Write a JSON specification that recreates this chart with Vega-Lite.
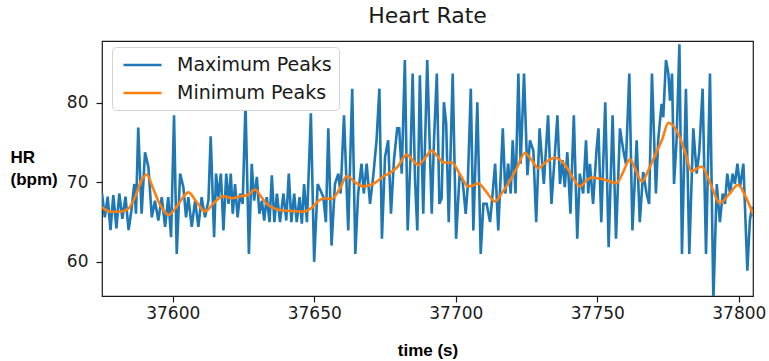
{
  "$schema": "https://vega.github.io/schema/vega-lite/v6.json",
  "width": 651,
  "height": 255,
  "autosize": {"type": "none"},
  "padding": {"left": 102, "top": 41, "right": 16, "bottom": 65},
  "background": "white",
  "title": {"text": "Heart Rate", "font": "DejaVu Sans", "fontSize": 22, "fontWeight": "normal", "color": "#1a1a1a", "anchor": "middle", "baseline": "alphabetic", "offset": 15, "dy": 19},
  "datasets": {
    "maxp": [
      {"t":37575.0,"hr":68.6},{"t":37576.0,"hr":65.6},{"t":37577.0,"hr":68.2},{"t":37578.0,"hr":64.0},{"t":37579.0,"hr":68.4},{"t":37580.1,"hr":64.2},{"t":37581.1,"hr":68.6},{"t":37582.2,"hr":65.4},{"t":37583.3,"hr":68.2},{"t":37584.4,"hr":64.0},{"t":37585.4,"hr":66.5},{"t":37586.4,"hr":69.8},{"t":37587.0,"hr":66.05},{"t":37587.8,"hr":76.9},{"t":37589.0,"hr":66.05},{"t":37590.2,"hr":73.8},{"t":37591.4,"hr":71.9},{"t":37592.6,"hr":65.6},{"t":37593.7,"hr":67.7},{"t":37594.9,"hr":65.2},{"t":37596.1,"hr":68.15},{"t":37597.3,"hr":64.4},{"t":37598.4,"hr":68.15},{"t":37599.4,"hr":63.1},{"t":37600.45,"hr":78.45},{"t":37601.4,"hr":61.0},{"t":37602.6,"hr":71.1},{"t":37603.75,"hr":69.4},{"t":37604.7,"hr":65.6},{"t":37605.5,"hr":68.15},{"t":37606.7,"hr":64.4},{"t":37607.9,"hr":67.7},{"t":37609.05,"hr":64.4},{"t":37610.2,"hr":68.15},{"t":37611.4,"hr":65.6},{"t":37612.6,"hr":67.7},{"t":37613.4,"hr":75.8},{"t":37614.6,"hr":63.1},{"t":37615.3,"hr":71.1},{"t":37616.1,"hr":68.15},{"t":37617.0,"hr":71.1},{"t":37617.9,"hr":63.95},{"t":37618.9,"hr":71.1},{"t":37619.7,"hr":67.3},{"t":37620.5,"hr":71.1},{"t":37621.2,"hr":66.05},{"t":37622.0,"hr":69.8},{"t":37622.9,"hr":65.6},{"t":37623.8,"hr":68.6},{"t":37624.7,"hr":67.3},{"t":37625.7,"hr":79.9},{"t":37626.9,"hr":61.0},{"t":37627.9,"hr":72.35},{"t":37628.75,"hr":67.7},{"t":37629.7,"hr":70.7},{"t":37630.6,"hr":66.05},{"t":37631.5,"hr":67.7},{"t":37632.3,"hr":65.2},{"t":37633.2,"hr":68.15},{"t":37634.2,"hr":65.0},{"t":37635.0,"hr":70.9},{"t":37635.9,"hr":65.0},{"t":37636.8,"hr":68.6},{"t":37637.9,"hr":65.0},{"t":37639.1,"hr":68.6},{"t":37640.1,"hr":65.2},{"t":37641.0,"hr":71.1},{"t":37641.9,"hr":65.0},{"t":37642.9,"hr":68.6},{"t":37643.8,"hr":65.0},{"t":37644.8,"hr":68.15},{"t":37645.6,"hr":64.8},{"t":37646.4,"hr":69.8},{"t":37647.4,"hr":65.0},{"t":37648.8,"hr":78.7},{"t":37649.95,"hr":60.0},{"t":37651.2,"hr":69.8},{"t":37653.2,"hr":68.15},{"t":37654.1,"hr":65.0},{"t":37654.95,"hr":76.8},{"t":37656.1,"hr":62.05},{"t":37657.3,"hr":69.8},{"t":37658.5,"hr":71.1},{"t":37659.3,"hr":68.6},{"t":37660.5,"hr":78.45},{"t":37662.0,"hr":63.95},{"t":37663.4,"hr":81.8},{"t":37664.5,"hr":61.0},{"t":37665.5,"hr":68.6},{"t":37666.7,"hr":72.35},{"t":37667.5,"hr":68.6},{"t":37668.5,"hr":72.35},{"t":37669.7,"hr":67.3},{"t":37670.8,"hr":70.7},{"t":37672.0,"hr":75.3},{"t":37673.0,"hr":81.8},{"t":37673.9,"hr":62.9},{"t":37675.0,"hr":73.2},{"t":37676.1,"hr":75.3},{"t":37677.1,"hr":66.05},{"t":37678.15,"hr":72.8},{"t":37679.3,"hr":76.8},{"t":37680.0,"hr":76.8},{"t":37680.9,"hr":71.1},{"t":37682.0,"hr":85.4},{"t":37683.0,"hr":63.95},{"t":37684.0,"hr":73.2},{"t":37684.75,"hr":83.7},{"t":37685.6,"hr":70.25},{"t":37686.4,"hr":63.95},{"t":37687.3,"hr":83.5},{"t":37688.5,"hr":66.05},{"t":37689.9,"hr":85.4},{"t":37691.5,"hr":66.05},{"t":37692.3,"hr":75.3},{"t":37693.3,"hr":83.7},{"t":37694.2,"hr":67.3},{"t":37695.0,"hr":68.0},{"t":37695.8,"hr":80.1},{"t":37696.6,"hr":77.4},{"t":37697.5,"hr":65.0},{"t":37698.9,"hr":83.7},{"t":37700.1,"hr":62.9},{"t":37701.3,"hr":70.7},{"t":37702.4,"hr":70.25},{"t":37703.5,"hr":66.05},{"t":37704.2,"hr":69.4},{"t":37705.3,"hr":81.8},{"t":37706.2,"hr":63.95},{"t":37707.6,"hr":80.1},{"t":37708.8,"hr":61.0},{"t":37709.75,"hr":67.3},{"t":37710.9,"hr":67.3},{"t":37712.1,"hr":65.0},{"t":37713.0,"hr":68.6},{"t":37713.9,"hr":72.35},{"t":37715.0,"hr":63.95},{"t":37716.6,"hr":76.8},{"t":37717.5,"hr":68.6},{"t":37718.5,"hr":72.35},{"t":37719.4,"hr":68.6},{"t":37720.1,"hr":75.3},{"t":37721.1,"hr":68.6},{"t":37722.1,"hr":83.7},{"t":37722.9,"hr":72.35},{"t":37724.1,"hr":83.7},{"t":37725.3,"hr":70.9},{"t":37726.2,"hr":75.3},{"t":37727.4,"hr":74.0},{"t":37728.4,"hr":65.0},{"t":37729.6,"hr":76.8},{"t":37731.1,"hr":69.8},{"t":37732.6,"hr":78.45},{"t":37733.8,"hr":67.3},{"t":37735.0,"hr":73.6},{"t":37735.9,"hr":78.45},{"t":37736.8,"hr":69.8},{"t":37737.7,"hr":72.8},{"t":37738.5,"hr":69.4},{"t":37739.4,"hr":73.8},{"t":37740.5,"hr":66.05},{"t":37741.7,"hr":78.45},{"t":37742.9,"hr":62.9},{"t":37743.8,"hr":71.1},{"t":37745.0,"hr":68.6},{"t":37746.0,"hr":75.3},{"t":37746.8,"hr":68.6},{"t":37747.4,"hr":72.35},{"t":37748.5,"hr":67.3},{"t":37749.7,"hr":74.0},{"t":37750.4,"hr":76.8},{"t":37751.4,"hr":65.0},{"t":37752.8,"hr":80.1},{"t":37754.0,"hr":61.85},{"t":37755.4,"hr":78.45},{"t":37756.6,"hr":62.9},{"t":37758.0,"hr":76.8},{"t":37759.2,"hr":74.0},{"t":37760.1,"hr":72.35},{"t":37761.3,"hr":83.7},{"t":37762.4,"hr":63.95},{"t":37763.9,"hr":75.3},{"t":37765.0,"hr":65.0},{"t":37766.2,"hr":71.3},{"t":37767.4,"hr":68.6},{"t":37768.3,"hr":67.3},{"t":37769.3,"hr":83.7},{"t":37770.7,"hr":68.6},{"t":37771.5,"hr":75.3},{"t":37772.7,"hr":79.9},{"t":37773.3,"hr":78.2},{"t":37774.25,"hr":85.4},{"t":37775.1,"hr":83.7},{"t":37775.7,"hr":80.3},{"t":37776.4,"hr":83.7},{"t":37777.1,"hr":69.8},{"t":37778.0,"hr":75.3},{"t":37779.0,"hr":87.4},{"t":37779.9,"hr":61.0},{"t":37781.3,"hr":81.8},{"t":37782.5,"hr":61.0},{"t":37783.9,"hr":76.8},{"t":37785.1,"hr":71.1},{"t":37786.0,"hr":73.8},{"t":37787.2,"hr":81.8},{"t":37788.4,"hr":61.0},{"t":37789.8,"hr":83.7},{"t":37791.0,"hr":55.0},{"t":37792.2,"hr":69.8},{"t":37793.3,"hr":65.0},{"t":37794.3,"hr":68.6},{"t":37795.1,"hr":67.3},{"t":37795.9,"hr":71.1},{"t":37796.9,"hr":68.6},{"t":37797.8,"hr":71.1},{"t":37798.6,"hr":69.8},{"t":37799.5,"hr":72.35},{"t":37800.4,"hr":69.4},{"t":37801.6,"hr":72.35},{"t":37803.0,"hr":58.9},{"t":37803.9,"hr":65.2},{"t":37804.6,"hr":66.9},{"t":37805.5,"hr":65.5}
    ],
    "minp": [
      {"t":37575,"hr":66.9},{"t":37578,"hr":66.3},{"t":37581,"hr":66.3},{"t":37584,"hr":66.6},{"t":37586.5,"hr":68.0},{"t":37589,"hr":70.3},{"t":37590.8,"hr":71.0},{"t":37593,"hr":69.3},{"t":37595.5,"hr":67.2},{"t":37598.4,"hr":65.9},{"t":37601.5,"hr":67.0},{"t":37605.5,"hr":68.75},{"t":37608.5,"hr":67.5},{"t":37611.4,"hr":66.35},{"t":37614.5,"hr":67.4},{"t":37617.9,"hr":68.25},{"t":37621,"hr":68.0},{"t":37623.8,"hr":68.25},{"t":37626.5,"hr":68.4},{"t":37629.1,"hr":69.1},{"t":37631,"hr":68.3},{"t":37633.2,"hr":67.3},{"t":37635.5,"hr":66.8},{"t":37638,"hr":66.5},{"t":37642,"hr":66.4},{"t":37646.1,"hr":66.3},{"t":37649,"hr":66.8},{"t":37652.0,"hr":67.8},{"t":37654,"hr":68.0},{"t":37656.1,"hr":67.9},{"t":37659,"hr":69.2},{"t":37661.5,"hr":70.8},{"t":37664.5,"hr":70.0},{"t":37667.3,"hr":69.5},{"t":37670,"hr":69.7},{"t":37672.1,"hr":70.1},{"t":37674.5,"hr":70.8},{"t":37676.8,"hr":71.2},{"t":37679.5,"hr":72.0},{"t":37682.7,"hr":73.5},{"t":37684.8,"hr":72.8},{"t":37686.8,"hr":72.2},{"t":37689,"hr":73.0},{"t":37691.5,"hr":74.0},{"t":37693.5,"hr":73.3},{"t":37695.6,"hr":72.5},{"t":37698.5,"hr":72.5},{"t":37701.5,"hr":71.0},{"t":37704.4,"hr":69.5},{"t":37706.2,"hr":69.6},{"t":37707.9,"hr":69.9},{"t":37710.8,"hr":68.8},{"t":37713.8,"hr":67.6},{"t":37716.5,"hr":68.8},{"t":37719.1,"hr":70.2},{"t":37721.8,"hr":72.0},{"t":37724.4,"hr":73.7},{"t":37726.8,"hr":72.8},{"t":37729.1,"hr":71.8},{"t":37732,"hr":72.6},{"t":37735.0,"hr":73.1},{"t":37739.2,"hr":71.9},{"t":37741.5,"hr":70.5},{"t":37743.9,"hr":69.5},{"t":37746,"hr":70.2},{"t":37748.0,"hr":70.6},{"t":37752.1,"hr":70.4},{"t":37756.8,"hr":69.9},{"t":37759,"hr":71.2},{"t":37761.5,"hr":72.9},{"t":37763.5,"hr":71.6},{"t":37765.7,"hr":70.1},{"t":37768,"hr":71.5},{"t":37770.4,"hr":73.4},{"t":37773,"hr":75.5},{"t":37775.1,"hr":77.5},{"t":37778.6,"hr":76.1},{"t":37781,"hr":73.8},{"t":37783.3,"hr":71.4},{"t":37786.8,"hr":72.0},{"t":37790,"hr":69.8},{"t":37793.3,"hr":67.4},{"t":37796.5,"hr":68.5},{"t":37799.8,"hr":69.7},{"t":37802,"hr":68.5},{"t":37805,"hr":66.0}
    ]
  },
  "layer": [
    {
      "data": {"name": "maxp"},
      "mark": {"type": "line", "strokeWidth": 2.6, "clip": true},
      "encoding": {
        "x": {"field": "t", "type": "quantitative",
          "scale": {"domain": [37575, 37805], "nice": false, "zero": false},
          "axis": {"values": [37600, 37650, 37700, 37750, 37800], "format": "d", "labelPadding": 3, "title": "time (s)", "titleY": 59, "titleBaseline": "alphabetic"}},
        "y": {"field": "hr", "type": "quantitative",
          "scale": {"domain": [55.7, 87.8], "nice": false, "zero": false},
          "axis": {"values": [60, 70, 80], "title": ["HR", "(bpm)"], "titleAngle": 0, "titleX": -92, "titleY": 108, "titleAlign": "left", "titleBaseline": "top", "titleLineHeight": 22}},
        "color": {"datum": "Maximum Peaks", "type": "nominal",
          "scale": {"domain": ["Maximum Peaks", "Minimum Peaks"], "range": ["#1f77b4", "#ff7f0e"]},
          "legend": {"title": null}}
      }
    },
    {
      "data": {"name": "minp"},
      "mark": {"type": "line", "strokeWidth": 2.6, "interpolate": "monotone", "clip": true},
      "encoding": {
        "x": {"field": "t", "type": "quantitative"},
        "y": {"field": "hr", "type": "quantitative"},
        "color": {"datum": "Minimum Peaks", "type": "nominal"}
      }
    }
  ],
  "config": {
    "view": {"stroke": "#1a1a1a", "strokeWidth": 1.2},
    "axis": {
      "grid": false, "domain": false,
      "tickSize": 6, "tickColor": "#1a1a1a", "tickWidth": 1.2,
      "labelFont": "DejaVu Sans", "labelFontSize": 17, "labelColor": "#1a1a1a", "labelPadding": 8,
      "titleFont": "Liberation Sans", "titleFontSize": 17, "titleFontWeight": "bold", "titleColor": "#000000"
    },
    "legend": {
      "orient": "none", "legendX": 10, "legendY": 6,
      "symbolType": "M-2,0H2", "symbolSize": 361, "symbolStrokeWidth": 2.6, "symbolFillColor": "transparent",
      "symbolOffset": 12.5, "labelOffset": 23.5,
      "labelFont": "DejaVu Sans", "labelFontSize": 19, "labelColor": "#1a1a1a",
      "rowPadding": 7, "padding": 7, "cornerRadius": 4,
      "strokeColor": "#d3d3d3", "fillColor": "white"
    }
  }
}
